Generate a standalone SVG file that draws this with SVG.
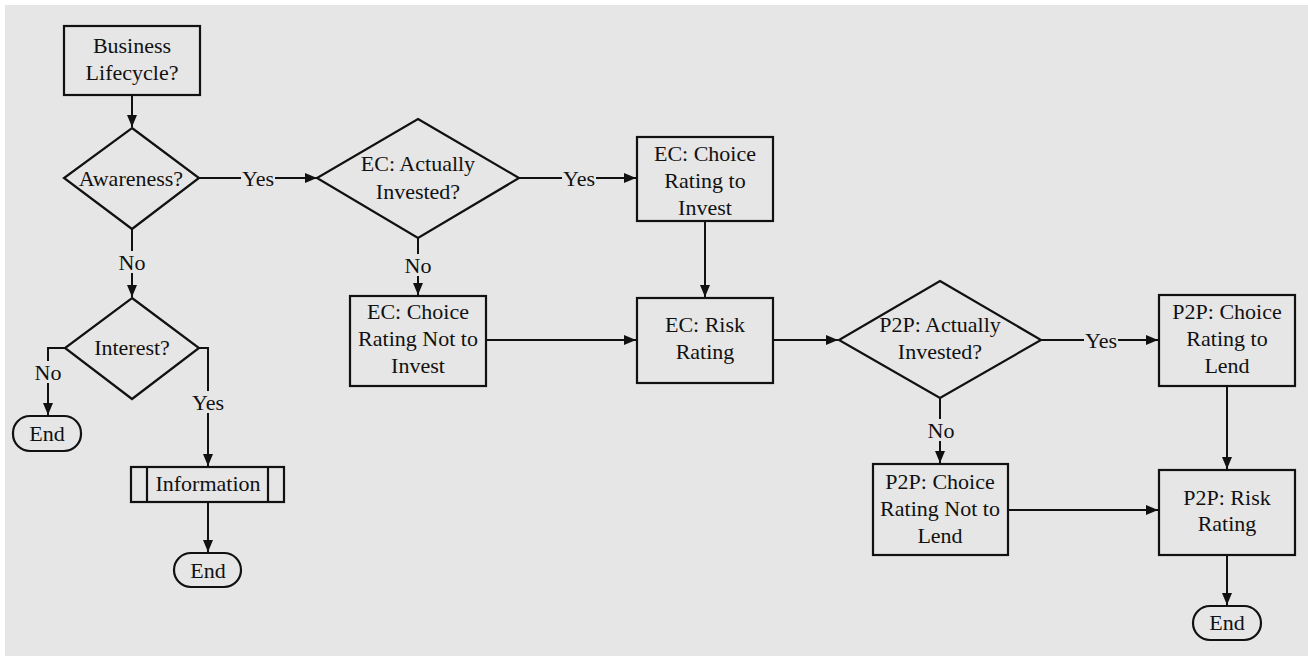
<svg xmlns="http://www.w3.org/2000/svg" width="1308" height="656" viewBox="0 0 1308 656">
<style>
.s{fill:none;stroke:#111;stroke-width:2.2}
.t{font-family:"Liberation Serif","Times New Roman",serif;font-size:22px;fill:#111;text-anchor:middle;dominant-baseline:central}
.c{fill:none;stroke:#111;stroke-width:2}
.lb{fill:#e6e6e6}
</style>
<defs>
<marker id="ah" viewBox="0 0 12 10" refX="12" refY="5" markerWidth="12" markerHeight="10" markerUnits="userSpaceOnUse" orient="auto">
<path d="M0,0 L12,5 L0,10 z" fill="#111"/>
</marker>
</defs>
<rect x="0" y="0" width="1308" height="656" fill="#ffffff"/>
<rect x="5" y="5" width="1303" height="651" fill="#e6e6e6"/>

<g id="connectors">
<path class="c" d="M132,95 V127" marker-end="url(#ah)"/>
<path class="c" d="M199,178 H317" marker-end="url(#ah)"/>
<path class="c" d="M132,229 V297" marker-end="url(#ah)"/>
<path class="c" d="M65,348 H48 V415" marker-end="url(#ah)"/>
<path class="c" d="M199,348 H208 V466" marker-end="url(#ah)"/>
<path class="c" d="M208,502 V552" marker-end="url(#ah)"/>
<path class="c" d="M519,178 H636" marker-end="url(#ah)"/>
<path class="c" d="M418,238 V295" marker-end="url(#ah)"/>
<path class="c" d="M486,340 H636" marker-end="url(#ah)"/>
<path class="c" d="M705,221 V297" marker-end="url(#ah)"/>
<path class="c" d="M773,340 H838" marker-end="url(#ah)"/>
<path class="c" d="M1041,340 H1158" marker-end="url(#ah)"/>
<path class="c" d="M940,398 V463" marker-end="url(#ah)"/>
<path class="c" d="M1008,510 H1158" marker-end="url(#ah)"/>
<path class="c" d="M1227,386 V469" marker-end="url(#ah)"/>
<path class="c" d="M1227,555 V605" marker-end="url(#ah)"/>
<g id="labels">
<rect class="lb" x="241" y="168" width="34" height="20"/><text class="t" x="258" y="178">Yes</text>
<rect class="lb" x="118" y="251" width="28" height="22"/><text class="t" x="132" y="262">No</text>
<rect class="lb" x="34" y="361" width="28" height="22"/><text class="t" x="48" y="372">No</text>
<rect class="lb" x="190" y="391" width="36" height="22"/><text class="t" x="208" y="402">Yes</text>
<rect class="lb" x="562" y="168" width="34" height="20"/><text class="t" x="579" y="178">Yes</text>
<rect class="lb" x="404" y="254" width="28" height="22"/><text class="t" x="418" y="265">No</text>
<rect class="lb" x="1084" y="330" width="34" height="20"/><text class="t" x="1101" y="340">Yes</text>
<rect class="lb" x="927" y="419" width="28" height="22"/><text class="t" x="941" y="430">No</text>
</g>
</g>

<g id="business-lifecycle">
<rect class="s" x="64" y="26" width="136" height="69" fill="#e6e6e6"/>
<text class="t" x="132" y="45">Business</text>
<text class="t" x="132" y="72">Lifecycle?</text>
</g>
<g id="awareness">
<polygon class="s" points="132,128 199,178 132,229 64,178" fill="#e6e6e6"/>
<text class="t" x="131" y="178">Awareness?</text>
</g>
<g id="interest">
<polygon class="s" points="132,298 199,348 132,399 65,348" fill="#e6e6e6"/>
<text class="t" x="132" y="347">Interest?</text>
</g>
<g id="end1">
<rect class="s" x="13" y="416" width="68" height="35" rx="17" fill="#e6e6e6"/>
<text class="t" x="47" y="433">End</text>
</g>
<g id="information">
<rect class="s" x="131" y="467" width="153" height="35" fill="#e6e6e6"/>
<path class="s" d="M147,467 V502 M268,467 V502"/>
<text class="t" x="208" y="483">Information</text>
</g>
<g id="end2">
<rect class="s" x="174" y="553" width="67" height="34" rx="17" fill="#e6e6e6"/>
<text class="t" x="208" y="570">End</text>
</g>
<g id="ec-invested">
<polygon class="s" points="418,119 519,178 418,238 317,178" fill="#e6e6e6"/>
<text class="t" x="418" y="163">EC: Actually</text>
<text class="t" x="418" y="191">Invested?</text>
</g>
<g id="ec-choice-invest">
<rect class="s" x="637" y="137" width="136" height="84" fill="#e6e6e6"/>
<text class="t" x="705" y="153">EC: Choice</text>
<text class="t" x="705" y="180">Rating to</text>
<text class="t" x="705" y="207">Invest</text>
</g>
<g id="ec-choice-not-invest">
<rect class="s" x="350" y="296" width="136" height="90" fill="#e6e6e6"/>
<text class="t" x="418" y="311">EC: Choice</text>
<text class="t" x="418" y="338">Rating Not to</text>
<text class="t" x="418" y="365">Invest</text>
</g>
<g id="ec-risk">
<rect class="s" x="637" y="298" width="136" height="85" fill="#e6e6e6"/>
<text class="t" x="705" y="324">EC: Risk</text>
<text class="t" x="705" y="351">Rating</text>
</g>
<g id="p2p-invested">
<polygon class="s" points="940,281 1041,340 940,398 839,340" fill="#e6e6e6"/>
<text class="t" x="940" y="324">P2P: Actually</text>
<text class="t" x="940" y="351">Invested?</text>
</g>
<g id="p2p-choice-lend">
<rect class="s" x="1159" y="295" width="136" height="91" fill="#e6e6e6"/>
<text class="t" x="1227" y="311">P2P: Choice</text>
<text class="t" x="1227" y="338">Rating to</text>
<text class="t" x="1227" y="365">Lend</text>
</g>
<g id="p2p-choice-not-lend">
<rect class="s" x="873" y="464" width="135" height="91" fill="#e6e6e6"/>
<text class="t" x="940" y="481">P2P: Choice</text>
<text class="t" x="940" y="508">Rating Not to</text>
<text class="t" x="940" y="535">Lend</text>
</g>
<g id="p2p-risk">
<rect class="s" x="1159" y="470" width="136" height="85" fill="#e6e6e6"/>
<text class="t" x="1227" y="497">P2P: Risk</text>
<text class="t" x="1227" y="523">Rating</text>
</g>
<g id="end3">
<rect class="s" x="1193" y="606" width="68" height="34" rx="17" fill="#e6e6e6"/>
<text class="t" x="1227" y="622">End</text>
</g>
</svg>
